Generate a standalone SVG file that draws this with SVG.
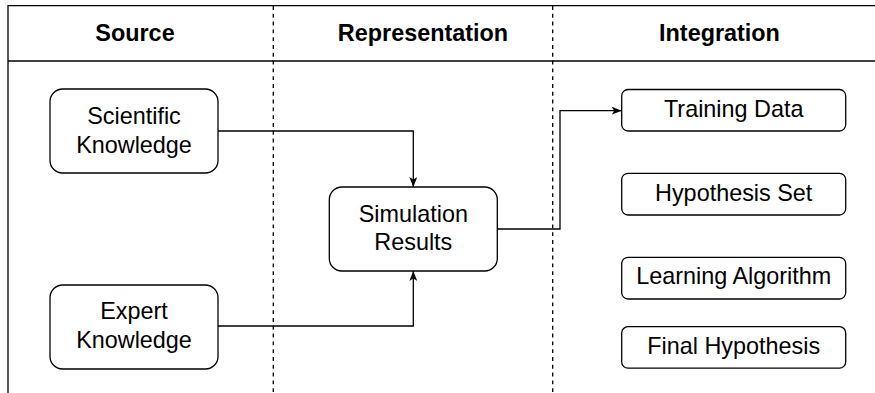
<svg xmlns="http://www.w3.org/2000/svg" width="875" height="393" viewBox="0 0 875 393">
<defs>
<style>
.box{fill:#fff;stroke:#000;stroke-width:1.3}
.t{font-family:"Liberation Sans",Arial,sans-serif;font-size:23.4px;fill:#000;text-anchor:middle}
.h{font-family:"Liberation Sans",Arial,sans-serif;font-size:23.4px;font-weight:bold;fill:#000;text-anchor:middle}
.ln{fill:none;stroke:#000;stroke-width:1.3}
.dash{fill:none;stroke:#000;stroke-width:1.3;stroke-dasharray:3.9 3.9}
.edge{fill:none;stroke:#000;stroke-width:1.3}
</style>
<marker id="arr" viewBox="0 0 10 8" refX="10" refY="4" markerWidth="10" markerHeight="8" markerUnits="userSpaceOnUse" orient="auto">
<path d="M0,0 L10,4 L0,8 L2.5,4 Z" fill="#000"/>
</marker>
</defs>
<rect width="875" height="393" fill="#fff"/>
<g id="frame">
<line class="ln" x1="8" y1="5.7" x2="875" y2="5.7"/>
<line class="ln" x1="8" y1="61" x2="875" y2="61"/>
<line class="ln" x1="8" y1="5" x2="8" y2="393"/>
<line class="dash" x1="273.3" y1="6" x2="273.3" y2="393"/>
<line class="dash" x1="552.7" y1="6" x2="552.7" y2="393"/>
<text class="h" x="135" y="41">Source</text>
<text class="h" x="423" y="41">Representation</text>
<text class="h" x="719.5" y="41">Integration</text>
</g>
<g id="connectors">
<path class="edge" d="M218,131 H413.3 V187" marker-end="url(#arr)"/>
<path class="edge" d="M218,326 H413.3 V271" marker-end="url(#arr)"/>
<path class="edge" d="M497,229 H560 V110.7 H621.7" marker-end="url(#arr)"/>
</g>
<g id="scientific">
<rect class="box" x="50" y="89" width="168" height="84" rx="12.6"/>
<text class="t" x="134" y="124">Scientific</text>
<text class="t" x="134" y="152.7">Knowledge</text>
</g>
<g id="expert">
<rect class="box" x="50" y="285" width="168" height="84" rx="12.6"/>
<text class="t" x="134" y="319">Expert</text>
<text class="t" x="134" y="347.5">Knowledge</text>
</g>
<g id="simulation">
<rect class="box" x="329.3" y="187" width="168" height="84" rx="12.6"/>
<text class="t" x="413.3" y="221.5">Simulation</text>
<text class="t" x="413.3" y="250">Results</text>
</g>
<g id="training">
<rect class="box" x="621.7" y="89.5" width="224" height="41.5" rx="6.3"/>
<text class="t" x="733.7" y="117">Training Data</text>
</g>
<g id="hypothesis">
<rect class="box" x="621.7" y="173.3" width="224" height="41.7" rx="6.3"/>
<text class="t" x="733.7" y="201">Hypothesis Set</text>
</g>
<g id="learning">
<rect class="box" x="621.7" y="257.3" width="224" height="41.7" rx="6.3"/>
<text class="t" x="733.7" y="284">Learning Algorithm</text>
</g>
<g id="final">
<rect class="box" x="621.7" y="326.7" width="224" height="41.5" rx="6.3"/>
<text class="t" x="733.7" y="354">Final Hypothesis</text>
</g>
</svg>
